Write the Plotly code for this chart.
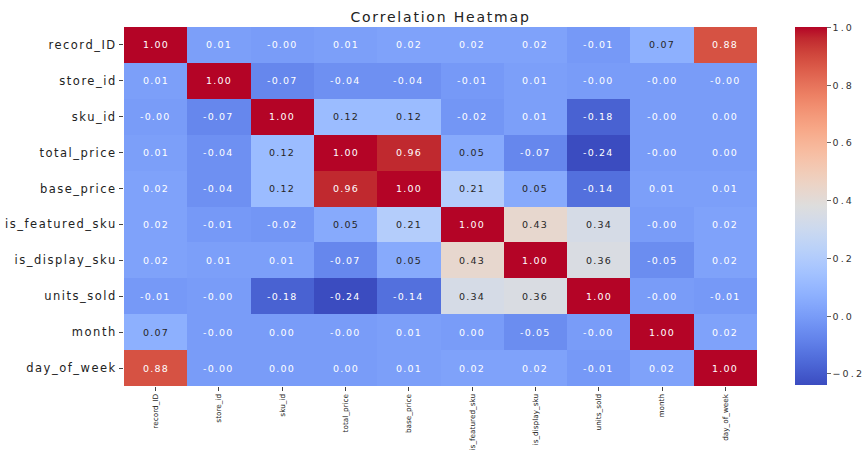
import plotly.graph_objects as go

features = ["record_ID", "store_id", "sku_id", "total_price", "base_price",
            "is_featured_sku", "is_display_sku", "units_sold", "month", "day_of_week"]

# Pairwise correlation coefficients (rows/cols follow `features`)
corr = [
    [1.00, 0.01, -0.00, 0.01, 0.02, 0.02, 0.02, -0.01, 0.07, 0.88],
    [0.01, 1.00, -0.07, -0.04, -0.04, -0.01, 0.01, -0.00, -0.00, -0.00],
    [-0.00, -0.07, 1.00, 0.12, 0.12, -0.02, 0.01, -0.18, -0.00, 0.00],
    [0.01, -0.04, 0.12, 1.00, 0.96, 0.05, -0.07, -0.24, -0.00, 0.00],
    [0.02, -0.04, 0.12, 0.96, 1.00, 0.21, 0.05, -0.14, 0.01, 0.01],
    [0.02, -0.01, -0.02, 0.05, 0.21, 1.00, 0.43, 0.34, -0.00, 0.02],
    [0.02, 0.01, 0.01, -0.07, 0.05, 0.43, 1.00, 0.36, -0.05, 0.02],
    [-0.01, -0.00, -0.18, -0.24, -0.14, 0.34, 0.36, 1.00, -0.00, -0.01],
    [0.07, -0.00, 0.00, -0.00, 0.01, 0.00, -0.05, -0.00, 1.00, 0.02],
    [0.88, -0.00, 0.00, 0.00, 0.01, 0.02, 0.02, -0.01, 0.02, 1.00],
]

colorbar_ticks = [-0.2, 0.0, 0.2, 0.4, 0.6, 0.8, 1.0]

# Diverging cool-warm palette (blue -> grey -> red)
cw = [
    (59, 76, 192), (68, 90, 204), (77, 104, 215), (87, 117, 225), (98, 130, 234),
    (108, 142, 241), (119, 154, 247), (130, 165, 251), (141, 176, 254), (152, 185, 255),
    (163, 194, 255), (174, 201, 253), (184, 208, 249), (194, 213, 244), (204, 217, 238),
    (213, 219, 230), (221, 221, 221), (229, 216, 209), (236, 211, 197), (241, 204, 184),
    (245, 196, 172), (247, 187, 159), (247, 177, 147), (247, 166, 134), (244, 154, 123),
    (241, 141, 111), (236, 127, 99), (229, 112, 89), (222, 96, 77), (213, 80, 66),
    (203, 62, 56), (192, 40, 47), (180, 4, 38),
]
n = len(cw) - 1
colorscale = [[i / n, f"rgb{c}"] for i, c in enumerate(cw)]

zmin = min(min(r) for r in corr)
zmax = max(max(r) for r in corr)


def cell_rgb(v):
    t = (v - zmin) / (zmax - zmin)
    t = max(0.0, min(1.0, t)) * n
    i = min(int(t), n - 1)
    f = t - i
    a, b = cw[i], cw[i + 1]
    return tuple(a[k] + (b[k] - a[k]) * f for k in range(3))


def luminance(rgb):
    out = []
    for c in rgb:
        c = c / 255
        out.append(c / 12.92 if c <= 0.03928 else ((c + 0.055) / 1.055) ** 2.4)
    return 0.2126 * out[0] + 0.7152 * out[1] + 0.0722 * out[2]


def spaced(text, px):
    """Wrap text in a span with extra letter spacing (wide lettering)."""
    return f'<span style="letter-spacing:{px}px">{text}</span>'


fig = go.Figure(go.Heatmap(
    z=corr, x=features, y=features,
    colorscale=colorscale, zmin=zmin, zmax=zmax,
    xgap=0, ygap=0,
    hovertemplate="%{y} / %{x}: %{z:.2f}<extra></extra>",
    colorbar=dict(
        x=1.06, xanchor="left", xref="paper", xpad=0, ypad=0,
        y=0.5, yanchor="middle",
        len=358, lenmode="pixels",
        thickness=32, thicknessmode="pixels",
        outlinewidth=0,
        tickvals=colorbar_ticks,
        ticktext=[spaced(f"{t:.1f}".replace("-", "−"), 2.2) for t in colorbar_ticks],
        ticks="outside", ticklen=4, tickcolor="#666",
        tickfont=dict(family="DejaVu Sans", size=9.5, color="#333"),
    ),
))

annotations = []
for i, row in enumerate(corr):
    for j, v in enumerate(row):
        dark = luminance(cell_rgb(v)) > 0.408
        annotations.append(dict(
            x=features[j], y=features[i], xref="x", yref="y",
            text=spaced(f"{v:.2f}", 1.2), showarrow=False,
            font=dict(family="DejaVu Sans", size=9.5,
                      color="#262626" if dark else "white"),
        ))

fig.update_layout(
    width=866, height=450,
    margin=dict(l=124, r=109, t=27, b=64, autoexpand=False),
    paper_bgcolor="white", plot_bgcolor="white",
    title=dict(text=spaced("Correlation Heatmap", 1.8), x=0.5, xref="paper",
               xanchor="center", y=1 - 17 / 450, yanchor="middle",
               font=dict(family="DejaVu Sans", size=14, color="#222")),
    annotations=annotations,
    xaxis=dict(tickangle=-90, ticks="outside", ticklen=4, tickcolor="#444",
               tickvals=features, ticktext=features, automargin=False,
               tickfont=dict(family="DejaVu Sans", size=7.3, color="#222"),
               showgrid=False, zeroline=False, showline=False),
    yaxis=dict(autorange="reversed", ticks="outside", ticklen=4, tickcolor="#444",
               tickvals=features, ticktext=[spaced(f, 1.5) for f in features],
               automargin=False,
               tickfont=dict(family="DejaVu Sans", size=11.5, color="#222"),
               showgrid=False, zeroline=False, showline=False),
)

fig.write_html("out.html")
